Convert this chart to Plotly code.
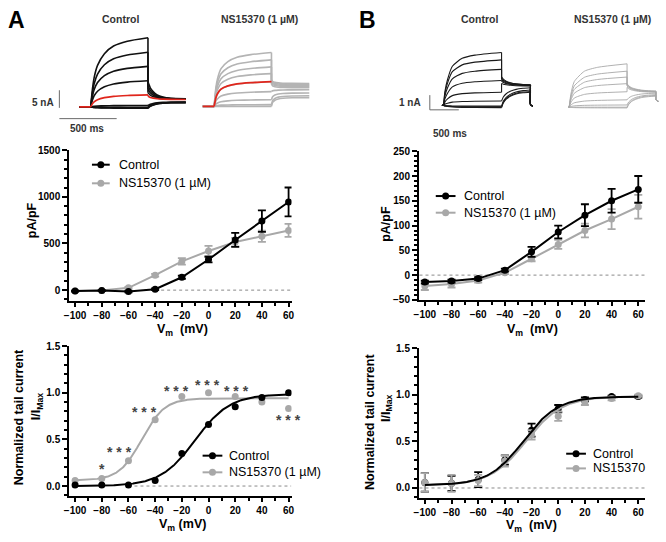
import numpy as np
import plotly.graph_objects as go

W, H = 666, 542
def px(x): return x / W
def py(y): return 1 - y / H

# ---------------- data ----------------
V = [-100, -80, -60, -40, -20, 0, 20, 40, 60]

A_IV_CTRL = [-10, -5, -15, 10, 138, 328, 538, 740, 945]
A_IV_CTRL_ERR = [5, 5, 8, 10, 18, 30, 75, 115, 155]
A_IV_NS = [-10, -5, 25, 160, 308, 420, 515, 578, 640]
A_IV_NS_ERR = [5, 5, 10, 15, 35, 55, 45, 60, 70]

B_IV_CTRL = [-14, -12, -7, 10, 47, 87, 121, 150, 173]
B_IV_CTRL_ERR = [3, 3, 3, 3, 10, 13, 22, 24, 27]
B_IV_NS = [-22, -18, -11, 5, 33, 62, 90, 113, 138]
B_IV_NS_ERR = [8, 7, 4, 3, 5, 9, 14, 20, 24]

A_N_CTRL = [0.01, 0.01, 0.01, 0.06, 0.35, 0.66, 0.85, 0.95, 1.0]
A_N_NS = [0.06, 0.08, 0.27, 0.71, 0.96, 1.0, 0.96, 0.90, 0.83]

B_N_CTRL = [0.06, 0.05, 0.09, 0.30, 0.62, 0.85, 0.95, 0.98, 0.98]
B_N_CTRL_ERR = [0.1, 0.08, 0.08, 0.05, 0.07, 0.04, 0.02, 0.01, 0.01]
B_N_NS = [0.06, 0.05, 0.08, 0.29, 0.57, 0.77, 0.92, 0.96, 0.99]
B_N_NS_ERR = [0.1, 0.09, 0.06, 0.06, 0.05, 0.05, 0.03, 0.02, 0.01]

# Boltzmann fit parameters (bottom, top, V1/2, slope)
A_FIT_CTRL = (0.0, 0.985, -10.0, 13.0)
A_FIT_NS = (0.06, 0.94, -50.0, 8.5)
B_FIT_CTRL = (0.03, 0.98, -26.0, 13.0)
B_FIT_NS = (0.03, 0.98, -24.0, 13.5)

STAR_V = [-80, -67, -48, -24, -1, 21, 60]
STAR_Y = [0.22, 0.40, 0.83, 1.05, 1.12, 1.05, 0.74]
STAR_TXT = ["*", "* * *", "* * *", "* * *", "* * *", "* * *", "* * *"]

# current traces (step potentials, descending), amplitudes in nA
TRACE_V = [60, 40, 20, 0, -20, -40, -60, -80, -100]
RED_V = -20

A_CTRL_STEP = [19.6, 15.5, 11.5, 7.4, 3.4, 0.4, -0.1, -0.3, -0.4]
A_CTRL_TAIL0 = [7.1, 6.0, 5.0, 4.0, 3.0, 0.4, -0.1, -0.3, -0.4]
A_CTRL_TAIL1 = [2.3, 2.25, 2.2, 2.15, 2.1, 1.4, 1.3, 1.2, 1.2]
A_CTRL_RISE_T = [0, 15, 30, 60, 120, 200, 320, 500]
A_CTRL_RISE_F = [0, 0.25, 0.42, 0.60, 0.77, 0.88, 0.95, 1.0]
A_CTRL_TAIL_T = [500, 520, 545, 580, 630, 700, 830]
A_CTRL_TAIL_F = [1.0, 0.65, 0.42, 0.22, 0.10, 0.03, 0.0]

A_NS_STEP = [15.3, 13.2, 11.2, 9.3, 7.0, 4.2, 1.9, 0.5, 0.0]
A_NS_TAIL0 = [7.6, 7.3, 7.0, 6.7, 6.3, 4.2, 1.9, 0.5, 0.0]
A_NS_TAIL1 = [6.5, 6.2, 5.9, 5.6, 5.3, 4.7, 3.8, 3.0, 2.5]
A_NS_RISE_T = [0, 15, 30, 60, 120, 200, 320, 500]
A_NS_RISE_F = [0, 0.35, 0.52, 0.70, 0.83, 0.91, 0.96, 1.0]
A_NS_TAIL_T = [500, 510, 530, 560, 600, 680, 830]
A_NS_TAIL_F = [1.0, 0.55, 0.30, 0.15, 0.07, 0.02, 0.0]

B_CTRL_STEP = [3.6, 3.1, 2.45, 1.7, 0.9, 0.3, -0.05, -0.1, -0.15]
B_CTRL_TAIL0 = [1.95, 1.85, 1.75, 1.65, 1.5, 0.3, -0.05, -0.1, -0.15]
B_CTRL_TAIL1 = [1.4, 1.4, 1.38, 1.35, 1.32, 1.2, 1.05, 0.95, 0.9]
B_CTRL_RISE_T = [0, 20, 67, 150, 320, 540, 1000]
B_CTRL_RISE_F = [0, 0.25, 0.49, 0.74, 0.89, 0.95, 1.0]
B_NS_STEP = [2.95, 2.45, 2.05, 1.6, 1.05, 0.5, 0.15, 0.0, -0.05]
B_NS_TAIL0 = [1.6, 1.55, 1.5, 1.45, 1.35, 0.5, 0.15, 0.0, -0.05]
B_NS_TAIL1 = [1.1, 1.08, 1.06, 1.04, 1.02, 0.95, 0.85, 0.8, 0.75]
B_NS_RISE_T = [0, 30, 88, 264, 493, 1000]
B_NS_RISE_F = [0, 0.30, 0.59, 0.83, 0.92, 1.0]
B_TAIL_T = [1000, 1030, 1080, 1150, 1250, 1370, 1500]
B_TAIL_F = [1.0, 0.70, 0.45, 0.27, 0.12, 0.04, 0.0]
B_ART_T = [1500, 1540]
B_CTRL_ART = [0.05, -0.05]
B_NS_ART = [0.5, 0.4]

SCALE_A_NA, SCALE_A_MS = 5, 500
SCALE_B_NA, SCALE_B_MS = 1, 500

# ---------------- styling ----------------
BLACK = "#000000"
GRAY = "#a8a8a8"
RED = "#e0261c"
FONT = "Liberation Sans, Arial, sans-serif"
TF = dict(family=FONT, size=10, color="black", weight="bold")

fig = go.Figure()

def boltz(p, x):
    b, t, vh, k = p
    return b + (t - b) / (1 + np.exp((vh - x) / k))

def iv(xa, ya, y, err, color, mode="lines+markers"):
    fig.add_trace(go.Scatter(
        x=V, y=y, xaxis=xa, yaxis=ya, mode=mode,
        line=dict(color=color, width=2),
        marker=dict(color=color, size=7),
        error_y=dict(type="data", array=err, color=color, thickness=1.8, width=4, visible=err is not None),
        hoverinfo="skip"))

# A IV
iv("x", "y", A_IV_NS, A_IV_NS_ERR, GRAY)
iv("x", "y", A_IV_CTRL, A_IV_CTRL_ERR, BLACK)
# B IV
iv("x2", "y2", B_IV_NS, B_IV_NS_ERR, GRAY)
iv("x2", "y2", B_IV_CTRL, B_IV_CTRL_ERR, BLACK)

# A normalized
vf = np.linspace(-100, 60, 321)
fig.add_trace(go.Scatter(x=vf, y=boltz(A_FIT_NS, vf), xaxis="x3", yaxis="y3", mode="lines",
                         line=dict(color=GRAY, width=2), hoverinfo="skip"))
fig.add_trace(go.Scatter(x=vf, y=boltz(A_FIT_CTRL, vf), xaxis="x3", yaxis="y3", mode="lines",
                         line=dict(color=BLACK, width=2), hoverinfo="skip"))
iv("x3", "y3", A_N_NS, None, GRAY, mode="markers")
iv("x3", "y3", A_N_CTRL, None, BLACK, mode="markers")

# B normalized
iv("x4", "y4", B_N_CTRL, B_N_CTRL_ERR, BLACK, mode="markers")
iv("x4", "y4", B_N_NS, B_N_NS_ERR, GRAY, mode="markers")
fig.add_trace(go.Scatter(x=vf, y=boltz(B_FIT_NS, vf), xaxis="x4", yaxis="y4", mode="lines",
                         line=dict(color=GRAY, width=2), hoverinfo="skip"))
fig.add_trace(go.Scatter(x=vf, y=boltz(B_FIT_CTRL, vf), xaxis="x4", yaxis="y4", mode="lines",
                         line=dict(color=BLACK, width=2), hoverinfo="skip"))

# ---------------- current traces ----------------
def trace_xy(amp, rise_t, rise_f, t_end, tail_t, tail_f, t0, t1, pre_t, art_t=None, art=None, tail=True):
    xs = [pre_t, 0, None] + list(rise_t)
    ys = [0, 0, None] + [amp * f for f in rise_f]
    if tail:
        xs += [None, t_end, t_end, None] + list(tail_t)
        ys += [None, amp, t0, None] + [t1 + (t0 - t1) * f for f in tail_f]
        if art_t is not None:
            xs += [None, tail_t[-1], art_t[0], art_t[1]]
            ys += [None, t1, art[0], art[1]]
    return xs, ys

def add_traces(xa, ya, step, tail0, tail1, rise_t, rise_f, t_end, tail_t, tail_f, pre_t,
               color, width, art_t=None, art=None, skip_red=False):
    red_item = None
    for i, v in enumerate(TRACE_V):
        if v == RED_V:
            red_item = i
            if skip_red:
                continue
        xs, ys = trace_xy(step[i], rise_t, rise_f, t_end, tail_t, tail_f, tail0[i], tail1[i], pre_t, art_t, art)
        fig.add_trace(go.Scatter(x=xs, y=ys, xaxis=xa, yaxis=ya, mode="lines",
                                 line=dict(color=color, width=width, shape="spline", smoothing=0.6),
                                 connectgaps=False, hoverinfo="skip"))
    return red_item

ri = add_traces("x5", "y5", A_CTRL_STEP, A_CTRL_TAIL0, A_CTRL_TAIL1, A_CTRL_RISE_T, A_CTRL_RISE_F,
                500, A_CTRL_TAIL_T, A_CTRL_TAIL_F, -100, "#111111", 1.6, skip_red=True)
xs, ys = trace_xy(A_CTRL_STEP[ri], A_CTRL_RISE_T, A_CTRL_RISE_F, 500, A_CTRL_TAIL_T, A_CTRL_TAIL_F,
                  A_CTRL_TAIL0[ri], A_CTRL_TAIL1[ri], -100)
fig.add_trace(go.Scatter(x=xs, y=ys, xaxis="x5", yaxis="y5", mode="lines",
                         line=dict(color=RED, width=1.6, shape="spline", smoothing=0.6), hoverinfo="skip"))

ri = add_traces("x6", "y6", A_NS_STEP, A_NS_TAIL0, A_NS_TAIL1, A_NS_RISE_T, A_NS_RISE_F,
                500, A_NS_TAIL_T, A_NS_TAIL_F, -100, "#b4b4b4", 1.6)
xs, ys = trace_xy(A_NS_STEP[ri], A_NS_RISE_T, A_NS_RISE_F, 500, A_NS_TAIL_T, A_NS_TAIL_F,
                  A_NS_TAIL0[ri], A_NS_TAIL1[ri], -100, tail=False)
fig.add_trace(go.Scatter(x=xs, y=ys, xaxis="x6", yaxis="y6", mode="lines",
                         line=dict(color=RED, width=1.8, shape="spline", smoothing=0.6), hoverinfo="skip"))

add_traces("x7", "y7", B_CTRL_STEP, B_CTRL_TAIL0, B_CTRL_TAIL1, B_CTRL_RISE_T, B_CTRL_RISE_F,
           1000, B_TAIL_T, B_TAIL_F, -30, "#1a1a1a", 1.1, B_ART_T, B_CTRL_ART)
add_traces("x8", "y8", B_NS_STEP, B_NS_TAIL0, B_NS_TAIL1, B_NS_RISE_T, B_NS_RISE_F,
           1000, B_TAIL_T, B_TAIL_F, -10, "#a8a8a8", 0.9, B_ART_T, B_NS_ART)

# ---------------- axes ----------------
def main_x(d, rng, anchor):
    return dict(domain=[px(d[0]), px(d[1])], range=rng, anchor=anchor, showline=True,
                linecolor="black", linewidth=2, ticks="outside", ticklen=4, tickwidth=2,
                tickcolor="black", dtick=20, tick0=0, showgrid=False, zeroline=False,
                minor=dict(ticks="outside", ticklen=3, tickwidth=1.5, tickcolor="black", dtick=10, tick0=0, showgrid=False),
                tickfont=TF, fixedrange=True)

def main_y(d, rng, anchor, dt, mdt, fmt=None):
    a = dict(domain=[py(d[1]), py(d[0])], range=rng, anchor=anchor, showline=True,
             linecolor="black", linewidth=2, ticks="outside", ticklen=5, tickwidth=2,
             tickcolor="black", dtick=dt, tick0=0, showgrid=False, zeroline=False,
             minor=dict(ticks="outside", ticklen=3, tickwidth=1.5, tickcolor="black", dtick=mdt, tick0=0, showgrid=False),
             tickfont=TF, fixedrange=True)
    if fmt:
        a["tickformat"] = fmt
    return a

def trace_ax(p0, p1, t0_px, ms_px, q0, q1, base, px_na, anchor, horiz):
    if horiz:
        return dict(domain=[px(p0), px(p1)], range=[(p0 - t0_px) * ms_px, (p1 - t0_px) * ms_px],
                    visible=False, anchor=anchor, fixedrange=True)
    return dict(domain=[py(q1), py(q0)], range=[(base - q1) / px_na, (base - q0) / px_na],
                visible=False, anchor=anchor, fixedrange=True)

layout = dict(
    width=W, height=H, margin=dict(l=0, r=0, t=0, b=0, pad=0), autosize=False,
    paper_bgcolor="white", plot_bgcolor="white", showlegend=False,
    xaxis=main_x((65, 290), [-104.4, 62.2], "y"),
    yaxis=main_y((148, 302), [-115, 1502], "x", 500, 100),
    xaxis2=main_x((419, 648), [-104.4, 65.2], "y2"),
    yaxis2=main_y((149, 301), [-50, 250.5], "x2", 50, 10),
    xaxis3=main_x((65, 290), [-104.4, 62.2], "y3"),
    yaxis3=main_y((348, 501), [-0.105, 1.502], "x3", 0.5, 0.1, ".1f"),
    xaxis4=main_x((419, 648), [-104.4, 65.2], "y4"),
    yaxis4=main_y((350, 503), [-0.105, 1.502], "x4", 0.5, 0.1, ".1f"),
    xaxis5=trace_ax(45, 190, 86.7, 8.62, 25, 120, 104, 3.6, "y5", True),
    yaxis5=trace_ax(45, 190, 86.7, 8.62, 25, 120, 104, 3.6, "x5", False),
    xaxis6=trace_ax(190, 320, 211.7, 8.62, 25, 120, 103.5, 3.6, "y6", True),
    yaxis6=trace_ax(190, 320, 211.7, 8.62, 25, 120, 103.5, 3.6, "x6", False),
    xaxis7=trace_ax(420, 540, 444, 17.06, 40, 120, 102.5, 15, "y7", True),
    yaxis7=trace_ax(420, 540, 444, 17.06, 40, 120, 102.5, 15, "x7", False),
    xaxis8=trace_ax(560, 665, 571, 17.06, 40, 120, 104.3, 15, "y8", True),
    yaxis8=trace_ax(560, 665, 571, 17.06, 40, 120, 104.3, 15, "x8", False),
)

shapes = []
# zero reference lines
for xr, yr, x0, x1 in [("x", "y", -40, 62), ("x2", "y2", -104, 65), ("x3", "y3", -60, 62), ("x4", "y4", -104, 65)]:
    shapes.append(dict(type="line", xref=xr, yref=yr, x0=x0, x1=x1, y0=0, y1=0, layer="below",
                       line=dict(color="#8a8a8a", width=1, dash="dot")))

# scale bars
SB = "#6a6a6a"
a_t0, a_i0, a_ih = -273, -0.28, -3.33
shapes.append(dict(type="line", xref="x5", yref="y5", x0=a_t0, x1=a_t0, y0=a_i0, y1=a_i0 + SCALE_A_NA, line=dict(color=SB, width=1)))
shapes.append(dict(type="line", xref="x5", yref="y5", x0=a_t0, x1=a_t0 + SCALE_A_MS, y0=a_ih, y1=a_ih, line=dict(color=SB, width=1)))
b_t0, b_i0 = -239, -0.3
shapes.append(dict(type="line", xref="x7", yref="y7", x0=b_t0, x1=b_t0, y0=b_i0, y1=b_i0 + SCALE_B_NA, line=dict(color=SB, width=1)))
shapes.append(dict(type="line", xref="x7", yref="y7", x0=b_t0, x1=b_t0 + SCALE_B_MS, y0=b_i0, y1=b_i0, line=dict(color=SB, width=1)))

annotations = []
def ann(x, y, text, size=12, bold=False, color="black", xanchor="center", angle=0, family=FONT):
    annotations.append(dict(x=px(x), y=py(y), xref="paper", yref="paper", text=text, showarrow=False,
                            xanchor=xanchor, yanchor="middle", textangle=angle,
                            font=dict(family=family, size=size, color=color, weight="bold" if bold else "normal")))

def legend_entry(x0, x1, y, tx, color, label):
    shapes.append(dict(type="line", xref="paper", yref="paper", x0=px(x0), x1=px(x1), y0=py(y), y1=py(y),
                       line=dict(color=color, width=2)))
    cx = (x0 + x1) / 2
    shapes.append(dict(type="circle", xref="paper", yref="paper", xsizemode="pixel", ysizemode="pixel",
                       xanchor=px(cx), yanchor=py(y), x0=-3.5, x1=3.5, y0=-3.5, y1=3.5,
                       fillcolor=color, line=dict(width=0)))
    ann(tx, y, label, size=12.5, xanchor="left")

legend_entry(88, 106, 163, 113, BLACK, "Control")
legend_entry(88, 106, 182, 113, GRAY, "NS15370 (1 µM)")
legend_entry(436, 456, 195, 463, BLACK, "Control")
legend_entry(436, 456, 212, 463, GRAY, "NS15370 (1 µM)")
legend_entry(200, 220, 460, 225, BLACK, "Control")
legend_entry(200, 220, 477, 225, GRAY, "NS15370 (1 µM)")
legend_entry(568, 588, 458, 593, BLACK, "Control")
legend_entry(568, 588, 473, 593, GRAY, "NS15370")

# panel letters and headers
ann(12, 15, "A", size=23, bold=True)
ann(367, 15, "B", size=23, bold=True)
HC = "#333333"
ann(117, 14, "Control", size=10.5, bold=True, color=HC)
ann(258, 14, "NS15370 (1 µM)", size=10.5, bold=True, color=HC)
ann(480, 14, "Control", size=10.5, bold=True, color=HC)
ann(615, 14, "NS15370 (1 µM)", size=10.5, bold=True, color=HC)
ann(38, 100, "5 nA", size=10, bold=True, color=HC)
ann(83, 126, "500 ms", size=10, bold=True, color=HC)
ann(410, 100, "1 nA", size=10, bold=True, color=HC)
ann(450, 131, "500 ms", size=10, bold=True, color=HC)

# axis titles
ann(27, 220, "pA/pF", size=12.5, bold=True, angle=-90)
ann(386, 223, "pA/pF", size=12.5, bold=True, angle=-90)
ann(180, 332, "V<sub>m</sub>  (mV)", size=12.5, bold=True)
ann(534, 332, "V<sub>m</sub>  (mV)", size=12.5, bold=True)
ann(180, 531, "V<sub>m</sub> (mV)", size=12.5, bold=True)
ann(533, 532, "V<sub>m</sub>  (mV)", size=12.5, bold=True)
ann(15, 421, "Normalized tail current", size=12.5, bold=True, angle=-90)
ann(32, 410, "I/I<sub>Max</sub>", size=12.5, bold=True, angle=-90)
ann(370, 426, "Normalized tail current", size=12.5, bold=True, angle=-90)
ann(386, 411, "I/I<sub>Max</sub>", size=12.5, bold=True, angle=-90)

# significance stars (data coords of A normalized panel)
for sv, sy, st in zip(STAR_V, STAR_Y, STAR_TXT):
    annotations.append(dict(x=sv, y=sy, xref="x3", yref="y3", text=st, showarrow=False,
                            yshift=-3, font=dict(family=FONT, size=14, color="#444444", weight="bold")))

layout["shapes"] = shapes
layout["annotations"] = annotations
fig.update_layout(**layout)
fig.write_html("out.html", config={"responsive": False, "displayModeBar": False},
               post_script="document.body.style.margin='0';document.body.style.padding='0';document.body.style.overflow='hidden';")
